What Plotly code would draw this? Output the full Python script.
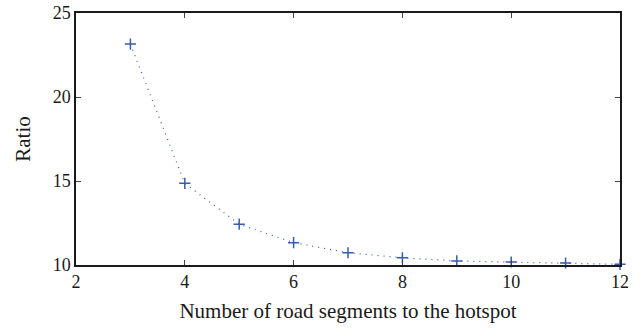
import plotly.graph_objects as go

segments = [3, 4, 5, 6, 7, 8, 9, 10, 11, 12]
ratio = [23.15, 14.86, 12.43, 11.33, 10.73, 10.43, 10.24, 10.18, 10.12, 10.04]

fig = go.Figure()
fig.add_trace(go.Scatter(
    x=segments, y=ratio, mode="lines+markers",
    line=dict(color="#3a5cb0", width=1.2, dash="1px,5px"),
    marker=dict(symbol="cross-thin", size=8, line=dict(color="#3a5cb0", width=1.5)),
    cliponaxis=False, showlegend=False,
))

tickfont = dict(family="Liberation Serif", size=18, color="#1a1a1a")
titlefont = dict(family="Liberation Serif", size=21, color="#1a1a1a")
fig.update_layout(
    width=640, height=332,
    margin=dict(l=76, r=20, t=13, b=67),
    paper_bgcolor="white", plot_bgcolor="white",
    font=tickfont,
    xaxis=dict(range=[2, 12], tickvals=[2, 4, 6, 8, 10, 12], ticks="inside", ticklen=5,
               showline=True, linecolor="#1a1a1a", linewidth=1.5, mirror="ticks",
               showgrid=False, zeroline=False, tickfont=tickfont, automargin=False,
               title=dict(text="Number of road segments to the hotspot", standoff=12, font=titlefont)),
    yaxis=dict(range=[10, 25], tickvals=[10, 15, 20, 25], ticks="inside", ticklen=5,
               showline=True, linecolor="#1a1a1a", linewidth=1.5, mirror="ticks",
               showgrid=False, zeroline=False, tickfont=tickfont, automargin=False,
               title=dict(text="Ratio", standoff=16, font=titlefont)),
)
fig.write_html("out.html")
